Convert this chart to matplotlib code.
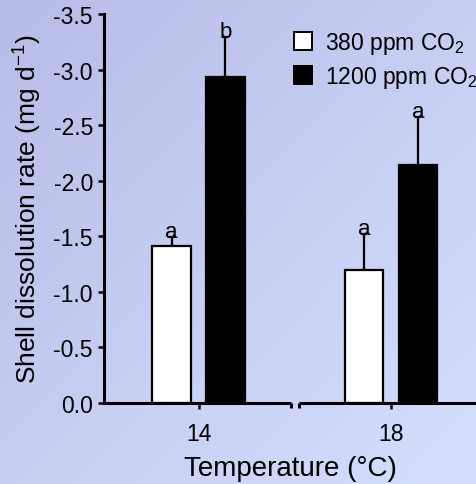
import numpy as np
import matplotlib
matplotlib.use("Agg")
import matplotlib.pyplot as plt
from matplotlib.patches import Patch
from matplotlib.ticker import FixedLocator, FixedFormatter

plt.rcParams["font.family"] = ["Liberation Sans", "DejaVu Sans"]
plt.rcParams["mathtext.fontset"] = "custom"
plt.rcParams["mathtext.rm"] = "Liberation Sans"
plt.rcParams["mathtext.it"] = "Liberation Sans:italic"
plt.rcParams["axes.unicode_minus"] = False

# Shell dissolution rate (mg per day), mean and upper error per treatment
temperatures = ["14", "18"]
rate_380 = [-1.41, -1.20]
rate_1200 = [-2.93, -2.14]
err_380 = [0.08, 0.32]
err_1200 = [0.36, 0.43]
letters_380 = ["a", "a"]
letters_1200 = ["b", "a"]
y_ticks = [0.0, -0.5, -1.0, -1.5, -2.0, -2.5, -3.0, -3.5]

W, H = 477, 485
fig = plt.figure(figsize=(W / 100, H / 100), dpi=100)

# soft diagonal lavender-to-blue backdrop
bg = fig.add_axes([0, 0, 1, 1], zorder=-10)
yy, xx = np.mgrid[0:H, 0:W]
t = (xx / W + yy / H) / 2.0
c0 = np.array([183, 188, 231]) / 255.0
c1 = np.array([213, 223, 253]) / 255.0
grad = c0[None, None, :] + (c1 - c0)[None, None, :] * t[:, :, None]
bg.imshow(grad, aspect="auto", extent=[0, 1, 0, 1], origin="upper")
bg.set_axis_off()

ax = fig.add_axes([104 / W, (H - 404) / H, (W - 104) / W, (404 - 15) / H])
ax.set_facecolor("none")

x = np.arange(len(temperatures))
off = 0.14
width = 0.2

ax.bar(x - off, rate_380, width, color="white", edgecolor="black", linewidth=1.6, zorder=3)
ax.bar(x + off, rate_1200, width, color="black", edgecolor="black", linewidth=1.6, zorder=3)

z = np.zeros(len(x))
ax.errorbar(x - off, rate_380, yerr=[err_380, z], fmt="none", ecolor="black",
            elinewidth=1.6, capsize=2.5, capthick=1.6, zorder=2)
ax.errorbar(x + off, rate_1200, yerr=[err_1200, z], fmt="none", ecolor="black",
            elinewidth=1.6, capsize=2.5, capthick=1.6, zorder=2)

for xi, r, e, lab in zip(x - off, rate_380, err_380, letters_380):
    ax.text(xi, r - e - 0.005, lab, ha="center", va="baseline", fontsize=16, zorder=4)
for xi, r, e, lab in zip(x + off, rate_1200, err_1200, letters_1200):
    ax.text(xi, r - e - 0.005, lab, ha="center", va="baseline", fontsize=16, zorder=4)

ax.set_xlim(-0.491, 1.447)
ax.set_ylim(0, -3.5)

ax.yaxis.set_major_locator(FixedLocator(y_ticks))
ax.yaxis.set_major_formatter(FixedFormatter([f"{v:.1f}" for v in y_ticks]))
ax.set_xticks(x)
ax.set_xticklabels(temperatures)
ax.tick_params(axis="both", direction="out", length=4, width=1.8, labelsize=16.5,
               pad=4, colors="black")
ax.tick_params(axis="x", pad=10)

for s in ["top", "right", "bottom"]:
    ax.spines[s].set_visible(False)
ax.spines["left"].set_linewidth(2.2)

# broken x axis: two segments with small down-turned ends at the gap
gap = 0.02
seg_kw = dict(color="black", lw=2.2, clip_on=False, zorder=5,
              solid_capstyle="butt", transform=ax.get_xaxis_transform())
ax.plot([-0.491, 0.5 - gap], [0, 0], **seg_kw)
ax.plot([0.5 + gap, 1.447], [0, 0], **seg_kw)
ax.plot([0.5 - gap, 0.5 - gap], [0, -0.012], **seg_kw)
ax.plot([0.5 + gap, 0.5 + gap], [0, -0.012], **seg_kw)

ax.set_ylabel("Shell dissolution rate (mg d$^{-1}$)", fontsize=19, labelpad=7)
ax.set_xlabel("Temperature (°C)", fontsize=20, labelpad=7)

handles = [Patch(facecolor="white", edgecolor="black", linewidth=1.4),
           Patch(facecolor="black", edgecolor="black", linewidth=1.4)]
fig.legend(handles, ["380 ppm CO$_2$", "1200 ppm CO$_2$"], loc="upper left",
           bbox_to_anchor=(294 / W, 1 - 31 / H), frameon=False, fontsize=16.5,
           handlelength=0.8, handleheight=0.8, handletextpad=0.55,
           labelspacing=0.35, borderpad=0, borderaxespad=0)

fig.savefig("out.png", dpi=100)
